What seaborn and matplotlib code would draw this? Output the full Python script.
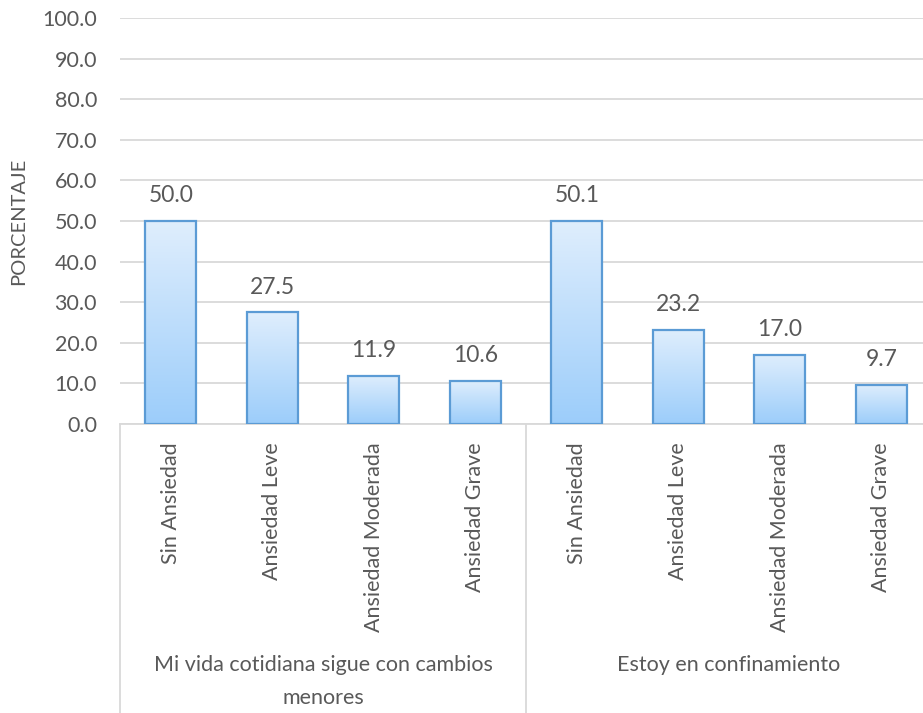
import numpy as np
import pandas as pd
import matplotlib
matplotlib.use("Agg")
import matplotlib.pyplot as plt
import matplotlib.transforms as mtransforms
from matplotlib.colors import LinearSegmentedColormap
import seaborn as sns

# Data
groups = ["Mi vida cotidiana sigue con cambios\nmenores", "Estoy en confinamiento"]
levels = ["Sin Ansiedad", "Ansiedad Leve", "Ansiedad Moderada", "Ansiedad Grave"]
group1_values = [50.0, 27.5, 11.9, 10.6]
group2_values = [50.1, 23.2, 17.0, 9.7]

values = group1_values + group2_values
positions = [f"{g}|{l}" for g in range(len(groups)) for l in levels]
df = pd.DataFrame({"pos": positions, "valor": values})

sns.set_theme(style="white")
plt.rcParams["font.family"] = ["Lato", "DejaVu Sans"]
text_color = "#595959"
fs = 15.5

W, H = 923, 713
fig = plt.figure(figsize=(W / 100, H / 100), dpi=100)
ax = fig.add_axes([120 / W, (H - 424) / H, (923 - 120) / W, (424 - 18) / H])

sns.barplot(data=df, x="pos", y="valor", ax=ax, width=0.5,
            color="#bcdcfb", edgecolor="#5b9bd5", linewidth=1.6, zorder=3)

# vertical gradient fill in every bar
cmap = LinearSegmentedColormap.from_list("bar_grad", ["#dfeefd", "#9ccdfa"])
grad = np.linspace(0, 1, 256).reshape(-1, 1)
for patch in ax.patches:
    x0, y0 = patch.get_x(), patch.get_y()
    w, h = patch.get_width(), patch.get_height()
    im = ax.imshow(grad, cmap=cmap, aspect="auto", extent=(x0, x0 + w, y0, y0 + h),
                   origin="upper", zorder=3.5, interpolation="bicubic")
    im.set_clip_path(patch)
    patch.set_facecolor("none")
    patch.set_zorder(4)

# value labels
for i, v in enumerate(values):
    ax.text(i, v + 6.2, f"{v:.1f}", ha="center", va="center", fontsize=16.5, color=text_color)

ax.set_xlim(-0.5, 7.41)
ax.set_ylim(0, 100)
ax.set_yticks(np.arange(0, 101, 10))
ax.set_yticklabels([f"{t:.1f}" for t in np.arange(0, 101, 10)])
ax.yaxis.grid(True, color="#d9d9d9", linewidth=1.3, zorder=0)
ax.set_axisbelow(True)
for s in ["top", "right", "left"]:
    ax.spines[s].set_visible(False)
ax.spines["bottom"].set_color("#d9d9d9")
ax.spines["bottom"].set_linewidth(1.3)

ax.set_xticks(range(len(values)))
ax.set_xticklabels(levels * len(groups), rotation=90, va="top", ha="center")
ax.tick_params(axis="x", length=0, pad=13, labelsize=fs, labelcolor=text_color)
ax.tick_params(axis="y", length=0, pad=16.5, labelsize=fs, labelcolor=text_color)
ax.set_xlabel("")
ax.set_ylabel("PORCENTAJE", fontsize=14.5, color=text_color, labelpad=11)

# group separators and group labels below the category labels
trans = mtransforms.blended_transform_factory(ax.transData, ax.transAxes)
span = 424 - 18
bottom_frac = -(713 - 424) / span
for xs in [-0.5, 3.5]:
    ax.plot([xs, xs], [0, bottom_frac], transform=trans, color="#d9d9d9",
            linewidth=1.3, clip_on=False)
for gi, g in enumerate(groups):
    xc = gi * 4 + 1.5
    ax.text(xc, -(655 - 424) / span, g, transform=trans, ha="center", va="top",
            fontsize=fs, color=text_color, linespacing=1.8)

fig.savefig("out.png", dpi=100)
